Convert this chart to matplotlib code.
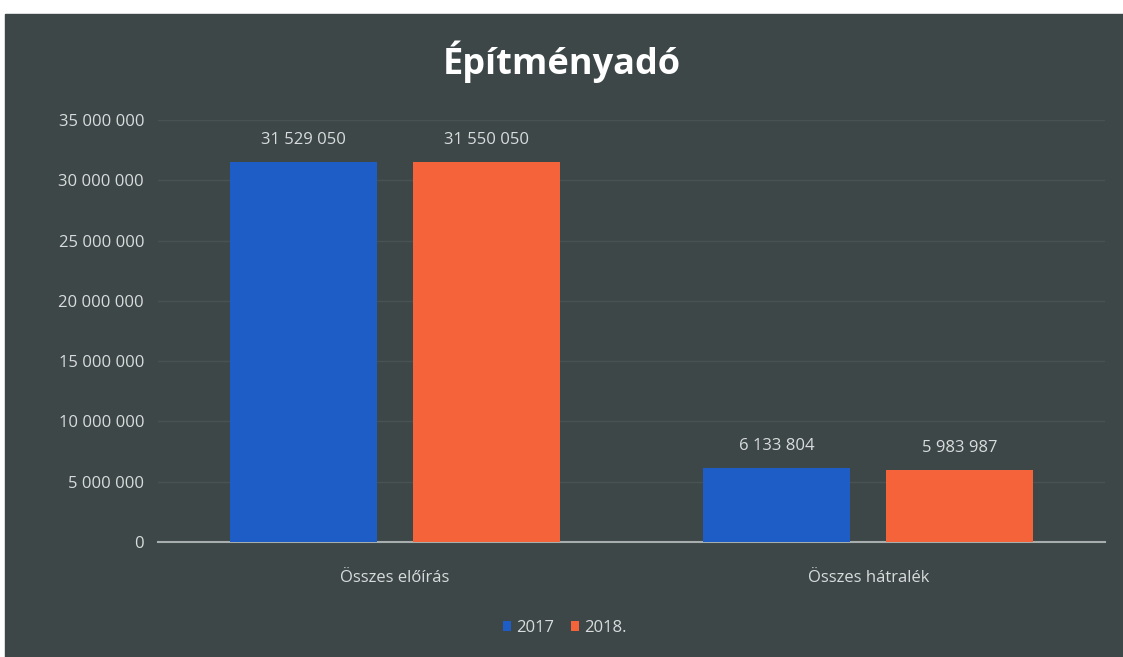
import matplotlib.pyplot as plt
import numpy as np
from matplotlib.patches import Rectangle

# Data
categories = ['Összes előírás', 'Összes hátralék']
series_names = ['2017', '2018.']
values_2017 = [31529050, 6133804]
values_2018 = [31550050, 5983987]
y_ticks = [0, 5000000, 10000000, 15000000, 20000000, 25000000, 30000000, 35000000]

bg = '#3d4747'
text_col = '#d9dcdc'
colors = ['#1e5cc6', '#f4633a']

plt.rcParams['font.family'] = ['Open Sans', 'DejaVu Sans']

fig = plt.figure(figsize=(11.23, 6.57), dpi=100, facecolor='white')
# dark chart area (scan leaves a white strip at top and left)
fig.patches.append(Rectangle((5 / 1123, 0), 1, (657 - 14) / 657,
                             transform=fig.transFigure, color=bg, zorder=-5))

ax = fig.add_axes([158 / 1123, 1 - 542 / 657, (1105 - 158) / 1123, (542 - 120) / 657])
ax.set_facecolor('none')
ax.set_zorder(2)

x = np.arange(len(categories))
w = 0.31
off = 0.193
bars1 = ax.bar(x - off, values_2017, w, color=colors[0], label=series_names[0], zorder=3)
bars2 = ax.bar(x + off, values_2018, w, color=colors[1], label=series_names[1], zorder=3)

def fmt(v):
    return f'{v:,}'.replace(',', ' ')

for bars in (bars1, bars2):
    for b in bars:
        ax.annotate(fmt(int(b.get_height())), (b.get_x() + b.get_width() / 2, b.get_height()),
                    xytext=(0, 10), textcoords='offset points', ha='center', va='bottom',
                    fontsize=12, color=text_col)

ax.set_xlim(-0.5, 1.5)
ax.set_ylim(0, 35000000)
ax.set_yticks(y_ticks)
ax.set_yticklabels([fmt(t) for t in y_ticks], fontsize=12, color=text_col)
ax.set_xticks(x)
ax.set_xticklabels(categories, fontsize=12, color=text_col)
ax.tick_params(axis='both', length=0, pad=10)
ax.tick_params(axis='x', pad=20)

ax.grid(axis='y', color='#485252', linewidth=1, zorder=0)
ax.set_axisbelow(True)
for s in ['top', 'right', 'left']:
    ax.spines[s].set_visible(False)
ax.spines['bottom'].set_color('#a8adad')
ax.spines['bottom'].set_linewidth(1.5)

fig.text(0.5, 1 - 62 / 657, 'Építményadó', ha='center', va='center',
         fontsize=26, fontweight='bold', color='white')

leg = fig.legend(loc='center', bbox_to_anchor=(565 / 1123, 1 - 628 / 657), ncol=2,
                 frameon=False, fontsize=12, handlelength=0.5, handleheight=0.5,
                 handletextpad=0.3, columnspacing=1.0)
for t in leg.get_texts():
    t.set_color(text_col)

fig.savefig('out.png', dpi=100, facecolor=fig.get_facecolor())
